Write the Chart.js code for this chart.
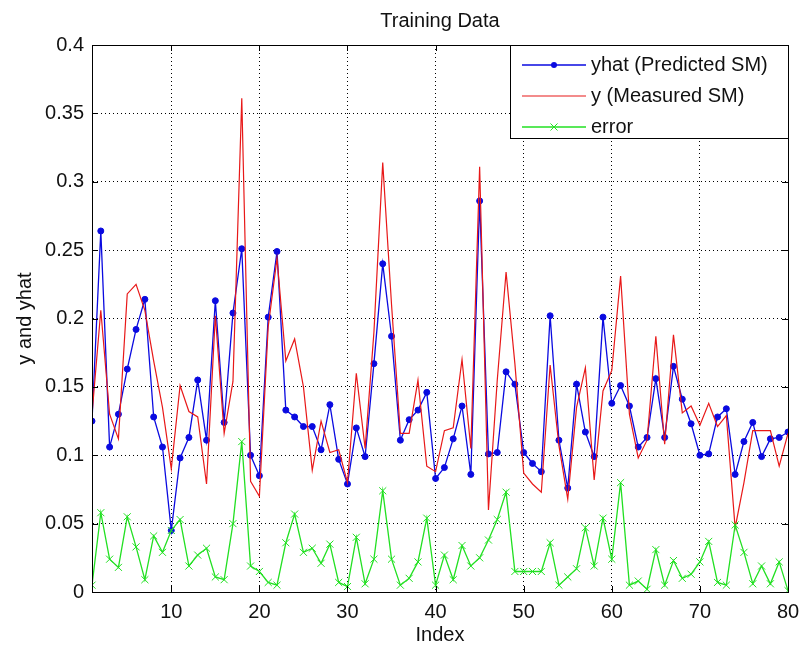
<!DOCTYPE html>
<html>
<head>
<meta charset="utf-8">
<title>Training Data</title>
<script src="https://cdn.jsdelivr.net/npm/chart.js@4.4.0/dist/chart.umd.min.js"></script>
<style>
  html, body { margin: 0; padding: 0; background: #fff; }
  #wrap { width: 799px; height: 651px; }
</style>
</head>
<body>
<div id="wrap"><canvas id="chart" width="799" height="651"></canvas></div>
<script>
// Training data: predicted vs measured SM, plus the absolute error

const FONT = "'Liberation Sans', Arial, Helvetica, sans-serif";

const idx = Array.from({ length: 80 }, (_, i) => i + 1);

const yhat = [
  0.125, 0.264, 0.106, 0.130, 0.163, 0.192, 0.214, 0.128, 0.106, 0.045,
  0.098, 0.113, 0.155, 0.111, 0.213, 0.124, 0.204, 0.251, 0.100, 0.085,
  0.201, 0.249, 0.133, 0.128, 0.121, 0.121, 0.104, 0.137, 0.097, 0.079,
  0.120, 0.099, 0.167, 0.240, 0.187, 0.111, 0.126, 0.133, 0.146, 0.083,
  0.091, 0.112, 0.136, 0.086, 0.286, 0.101, 0.102, 0.161, 0.152, 0.102,
  0.094, 0.088, 0.202, 0.111, 0.076, 0.152, 0.117, 0.099, 0.201, 0.138,
  0.151, 0.136, 0.106, 0.113, 0.156, 0.113, 0.165, 0.141, 0.123, 0.100,
  0.101, 0.128, 0.134, 0.086, 0.110, 0.124, 0.099, 0.112, 0.113, 0.117
];

const yMeasured = [
  0.130, 0.206, 0.130, 0.112, 0.218, 0.225, 0.206, 0.169, 0.135, 0.090,
  0.151, 0.132, 0.128, 0.079, 0.202, 0.116, 0.154, 0.361, 0.081, 0.070,
  0.194, 0.244, 0.169, 0.185, 0.150, 0.089, 0.125, 0.102, 0.104, 0.080,
  0.160, 0.105, 0.190, 0.314, 0.210, 0.116, 0.116, 0.155, 0.092, 0.088,
  0.118, 0.120, 0.170, 0.105, 0.311, 0.060, 0.155, 0.234, 0.167, 0.087,
  0.079, 0.073, 0.166, 0.107, 0.068, 0.135, 0.164, 0.082, 0.147, 0.162,
  0.231, 0.130, 0.098, 0.111, 0.187, 0.108, 0.188, 0.131, 0.136, 0.122,
  0.138, 0.121, 0.129, 0.047, 0.080, 0.118, 0.118, 0.118, 0.092, 0.116
];

const err = [
  0.005, 0.058, 0.024, 0.018, 0.055, 0.033, 0.009, 0.041, 0.029, 0.045,
  0.053, 0.019, 0.027, 0.032, 0.011, 0.009, 0.050, 0.110, 0.019, 0.015,
  0.007, 0.005, 0.036, 0.057, 0.029, 0.032, 0.021, 0.035, 0.007, 0.004,
  0.040, 0.006, 0.024, 0.074, 0.024, 0.005, 0.010, 0.022, 0.054, 0.005,
  0.027, 0.009, 0.034, 0.019, 0.025, 0.038, 0.053, 0.073, 0.015, 0.015,
  0.015, 0.015, 0.036, 0.005, 0.011, 0.017, 0.047, 0.019, 0.054, 0.024,
  0.080, 0.005, 0.008, 0.002, 0.031, 0.005, 0.023, 0.010, 0.013, 0.022,
  0.037, 0.007, 0.005, 0.049, 0.029, 0.006, 0.019, 0.006, 0.022, 0.001
];

const seriesNames = ["yhat (Predicted SM)", "y (Measured SM)", "error"];

const xTicks = [10, 20, 30, 40, 50, 60, 70, 80];
const xTickLabels = ["10", "20", "30", "40", "50", "60", "70", "80"];
const yTicks = [0, 0.05, 0.1, 0.15, 0.2, 0.25, 0.3, 0.35, 0.4];
const yTickLabels = ["0", "0.05", "0.1", "0.15", "0.2", "0.25", "0.3", "0.35", "0.4"];

const chartTitle = "Training Data";
const xTitle = "Index";
const yTitle = "y and yhat";

function toPoints(vals) {
  return vals.map((v, i) => ({ x: idx[i], y: v }));
}

// MATLAB-ish frame: box, inward ticks, title and legend inside the axes
const matlabFrame = {
  id: "matlabFrame",
  afterDraw(chart) {
    const { ctx, chartArea: a, scales } = chart;
    ctx.save();

    // inward tick marks
    ctx.strokeStyle = "#000";
    ctx.lineWidth = 1;
    ctx.beginPath();
    for (const v of xTicks) {
      const px = Math.round(scales.x.getPixelForValue(v)) + 0.5;
      ctx.moveTo(px, a.bottom); ctx.lineTo(px, a.bottom - 6);
      ctx.moveTo(px, a.top); ctx.lineTo(px, a.top + 6);
    }
    for (const v of yTicks) {
      const py = Math.round(scales.y.getPixelForValue(v)) + 0.5;
      ctx.moveTo(a.left, py); ctx.lineTo(a.left + 6, py);
      ctx.moveTo(a.right, py); ctx.lineTo(a.right - 6, py);
    }
    ctx.stroke();

    // axes box
    ctx.strokeRect(Math.round(a.left) + 0.5, Math.round(a.top) + 0.5,
      Math.round(a.right - a.left), Math.round(a.bottom - a.top));

    // title
    ctx.fillStyle = "#111";
    ctx.font = "20px " + FONT;
    ctx.textAlign = "center";
    ctx.textBaseline = "middle";
    ctx.fillText(chartTitle, (a.left + a.right) / 2, 21);

    // legend box
    const bx = 510, by = Math.round(a.top), bw = Math.round(a.right) - 510, bh = 93;
    ctx.fillStyle = "#fff";
    ctx.fillRect(bx, by, bw, bh);
    ctx.lineWidth = 1;
    ctx.strokeStyle = "#000";
    ctx.strokeRect(bx + 0.5, by + 0.5, bw, bh);

    const rows = [65, 96, 127];
    chart.data.datasets.forEach((ds, i) => {
      const y = rows[i];
      ctx.strokeStyle = ds.borderColor;
      ctx.lineWidth = ds.borderWidth;
      ctx.beginPath();
      ctx.moveTo(bx + 12, y); ctx.lineTo(bx + 76, y);
      ctx.stroke();
      const mx = bx + 44;
      if (ds.pointStyle === "circle" && ds.pointRadius > 0) {
        ctx.fillStyle = ds.pointBackgroundColor;
        ctx.beginPath();
        ctx.arc(mx, y, ds.pointRadius, 0, Math.PI * 2);
        ctx.fill();
      } else if (ds.pointStyle === "crossRot" && ds.pointRadius > 0) {
        const r = ds.pointRadius * Math.SQRT1_2;
        ctx.lineWidth = ds.pointBorderWidth;
        ctx.beginPath();
        ctx.moveTo(mx - r, y - r); ctx.lineTo(mx + r, y + r);
        ctx.moveTo(mx + r, y - r); ctx.lineTo(mx - r, y + r);
        ctx.stroke();
      }
      ctx.fillStyle = "#111";
      ctx.font = "20px " + FONT;
      ctx.textAlign = "left";
      ctx.textBaseline = "middle";
      ctx.fillText(ds.label, bx + 81, y);
    });

    ctx.restore();
  }
};

document.addEventListener("DOMContentLoaded", () => {
  const ctx = document.getElementById("chart").getContext("2d");

  new Chart(ctx, {
    type: "line",
    data: {
      datasets: [
        {
          label: seriesNames[0],
          data: toPoints(yhat),
          borderColor: "#0a0ae0",
          backgroundColor: "#0a0ae0",
          borderWidth: 1.3,
          pointStyle: "circle",
          pointRadius: 3,
          pointBackgroundColor: "#0a0ae0",
          pointBorderColor: "#0a0ae0",
          pointBorderWidth: 1,
          tension: 0,
          order: 3
        },
        {
          label: seriesNames[1],
          data: toPoints(yMeasured),
          borderColor: "#e81818",
          backgroundColor: "#e81818",
          borderWidth: 1.2,
          pointStyle: "circle",
          pointRadius: 0,
          tension: 0,
          order: 2
        },
        {
          label: seriesNames[2],
          data: toPoints(err),
          borderColor: "#22e022",
          backgroundColor: "#22e022",
          borderWidth: 1.3,
          pointStyle: "crossRot",
          pointRadius: 5,
          pointBorderColor: "#22e022",
          pointBorderWidth: 1,
          tension: 0,
          order: 1
        }
      ]
    },
    options: {
      responsive: false,
      animation: false,
      devicePixelRatio: 1,
      layout: { padding: { top: 45, right: 11, left: 0, bottom: 0 } },
      plugins: {
        legend: { display: false },
        title: { display: false },
        tooltip: { enabled: false }
      },
      scales: {
        x: {
          type: "linear",
          min: 1,
          max: 80,
          afterBuildTicks: (s) => { s.ticks = xTicks.map((v) => ({ value: v })); },
          afterFit: (s) => { s.height = 59; s.paddingLeft = 0; s.paddingRight = 0; },
          grid: { color: "#000", lineWidth: 1, drawTicks: false },
          border: { display: true, color: "#000", width: 1, dash: [1, 3] },
          ticks: {
            padding: 8,
            color: "#111",
            maxRotation: 0,
            font: { family: FONT, size: 20 },
            callback: (v, i) => xTickLabels[i]
          },
          title: {
            display: true,
            text: xTitle,
            color: "#111",
            font: { family: FONT, size: 20 },
            padding: { top: 0, bottom: 4 }
          }
        },
        y: {
          min: 0,
          max: 0.4,
          afterBuildTicks: (s) => { s.ticks = yTicks.map((v) => ({ value: v })); },
          afterFit: (s) => { s.width = 92; s.paddingTop = 0; s.paddingBottom = 0; },
          grid: { color: "#000", lineWidth: 1, drawTicks: false },
          border: { display: true, color: "#000", width: 1, dash: [1, 3] },
          ticks: {
            padding: 8,
            color: "#111",
            font: { family: FONT, size: 20 },
            callback: (v, i) => yTickLabels[i]
          },
          title: {
            display: true,
            text: yTitle,
            color: "#111",
            font: { family: FONT, size: 20 },
            padding: { top: 13, bottom: 0 }
          }
        }
      }
    },
    plugins: [matlabFrame]
  });
});
</script>
</body>
</html>
